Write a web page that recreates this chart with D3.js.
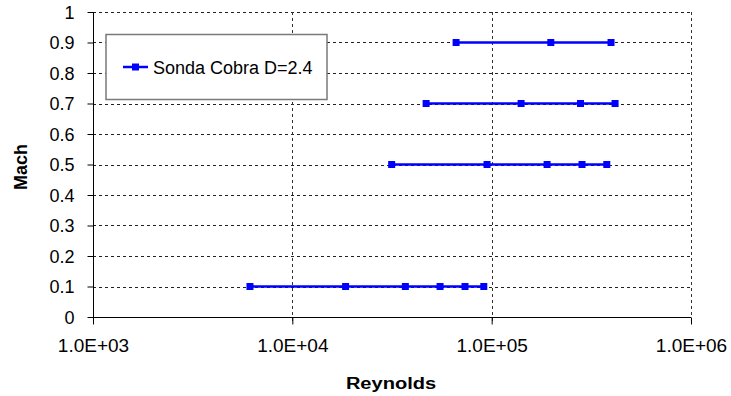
<!DOCTYPE html>
<html>
<head>
<meta charset="utf-8">
<script src="https://cdn.jsdelivr.net/npm/d3@7"></script>
<style>
  body { margin: 0; background: #fff; }
  text { font-family: "Liberation Sans", Arial, sans-serif; fill: #000; }
</style>
</head>
<body>
<svg id="chart" width="731" height="396"></svg>
<script>
// series: Reynolds numbers, grouped by Mach
const mach = [0.1, 0.5, 0.7, 0.9];
const reynolds01 = [6130, 18500, 36900, 55100, 73500, 91300];
const reynolds05 = [31500, 94800, 189700, 284000, 378000];
const reynolds07 = [46900, 140500, 279000, 416000];
const reynolds09 = [66300, 198000, 397000];
const seriesName = "Sonda Cobra D=2.4";
const xTicks = [1e3, 1e4, 1e5, 1e6];
const yTicks = [0, 0.1, 0.2, 0.3, 0.4, 0.5, 0.6, 0.7, 0.8, 0.9, 1];

const groups = [reynolds01, reynolds05, reynolds07, reynolds09].map((r, i) => ({ m: mach[i], re: r }));

const svg = d3.select("#chart");
const plotL = 93, plotR = 691, plotT = 12, plotB = 317;

const x = d3.scaleLog().domain([1e3, 1e6]).range([plotL, plotR]);
const y = d3.scaleLinear().domain([0, 1]).range([plotB, plotT]);

const grid = svg.append("g");
// horizontal grid
grid.selectAll(".hg")
    .data(yTicks.filter(d => d > 0))
    .enter().append("line")
    .attr("x1", plotL).attr("x2", plotR)
    .attr("y1", d => Math.round(y(d)) + 0.5).attr("y2", d => Math.round(y(d)) + 0.5)
    .attr("stroke", "#222").attr("stroke-dasharray", "3,3");
// vertical grid
grid.selectAll(".vg")
    .data(xTicks.slice(1))
    .enter().append("line")
    .attr("x1", d => Math.round(x(d)) + 0.5).attr("x2", d => Math.round(x(d)) + 0.5)
    .attr("y1", plotT).attr("y2", plotB + 7)
    .attr("stroke", "#333").attr("stroke-dasharray", "3,3");

// axes
const yAxis = svg.append("g")
    .attr("transform", `translate(${plotL + 0.5},0)`)
    .call(d3.axisLeft(y).tickValues(yTicks).tickSize(6).tickPadding(13).tickFormat(d => d));
yAxis.select(".domain").attr("stroke", "#000").attr("d", `M0,${plotT}V${plotB}`);
yAxis.selectAll("text").style("font-size", "18px").attr("dy", "0.36em");

const xAxis = svg.append("g")
    .attr("transform", `translate(0,${plotB + 0.5})`)
    .call(d3.axisBottom(x).tickValues(xTicks).tickSize(7).tickPadding(14)
        .tickFormat(d => "1.0E+" + String(Math.round(Math.log10(d))).padStart(2, "0")));
xAxis.select(".domain").attr("stroke", "#000").attr("d", `M${plotL},0H${plotR}`);
xAxis.selectAll("text").style("font-size", "19px");

// series
const line = d3.line().x(d => x(d[0])).y(d => y(d[1]));
const blue = "#0000ff";
groups.forEach(g => {
  const pts = g.re.map(r => [r, g.m]);
  svg.append("path").datum(pts)
     .attr("d", line).attr("fill", "none")
     .attr("stroke", blue).attr("stroke-width", 2.5);
  svg.selectAll(null).data(pts).enter().append("rect")
     .attr("x", d => x(d[0]) - 3.5).attr("y", d => y(d[1]) - 3.5)
     .attr("width", 7).attr("height", 7).attr("fill", blue);
});

// legend
const lg = svg.append("g");
lg.append("rect").attr("x", 106).attr("y", 34.5).attr("width", 221).attr("height", 65)
  .attr("fill", "#fff").attr("stroke", "#7a7a7a").attr("stroke-width", 1.5);
lg.append("line").attr("x1", 123).attr("x2", 148).attr("y1", 67).attr("y2", 67)
  .attr("stroke", blue).attr("stroke-width", 2.5);
lg.append("rect").attr("x", 132).attr("y", 63.5).attr("width", 7).attr("height", 7).attr("fill", blue);
lg.append("text").attr("x", 153).attr("y", 73.5).style("font-size", "18px").text(seriesName);

// axis titles
svg.append("text")
   .attr("transform", "translate(391,389) scale(1.18,1)")
   .attr("text-anchor", "middle").style("font-size", "17px").style("font-weight", "bold")
   .text("Reynolds");
svg.append("text")
   .attr("transform", "translate(27,167) rotate(-90)")
   .attr("text-anchor", "middle").style("font-size", "18px").style("font-weight", "bold")
   .text("Mach");
</script>
</body>
</html>
